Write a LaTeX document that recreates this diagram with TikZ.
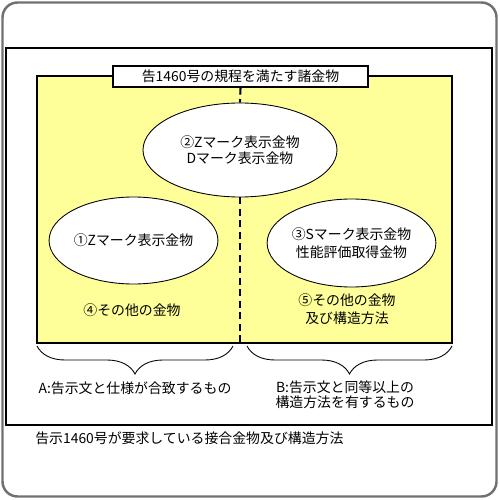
\documentclass[tikz,border=0pt]{standalone}
\usepackage{fontspec}
\setmainfont{Noto Sans CJK JP}
\usepackage{tikz}
\usetikzlibrary{shapes.geometric,decorations.pathreplacing,positioning,calc}
\definecolor{framegray}{HTML}{707070}
\definecolor{paleyellow}{HTML}{FFFF99}

\begin{document}
\begin{tikzpicture}[
  txt/.style={font=\fontsize{7.9pt}{8.8pt}\selectfont,align=center,inner sep=0pt},
  oval/.style={ellipse,draw,fill=white,line width=0.5pt,inner sep=0pt,txt},
  brc/.style={decorate,decoration={brace,mirror,amplitude=0.56cm},line width=0.5pt},
  sep/.style={line width=1.2pt,dash pattern=on 0.14cm off 0.09cm}]
\useasboundingbox (0,0) rectangle (10,-10);
\draw[framegray,line width=1.4pt,rounded corners=0.3cm] (0.05,-0.05) rectangle (9.93,-9.93);
\draw[line width=0.6pt] (0.12,-0.96) rectangle (9.84,-8.5);
\node[draw,fill=paleyellow,line width=0.6pt,minimum width=8.3cm,minimum height=5.34cm,inner sep=0pt] (zone) at (4.89,-4.19) {};
\node[draw,fill=white,txt,line width=0.6pt,minimum width=5.1cm,minimum height=0.42cm] (title) at (4.81,-1.53) {告1460号の規程を満たす諸金物};
\node[oval,minimum width=3.88cm,minimum height=1.88cm] (zd) at (4.8,-3.0) {②Zマーク表示金物\\Dマーク表示金物};
\node[oval,minimum width=2.78cm,minimum height=1.74cm] (z) at (2.67,-4.81) {①Zマーク表示金物};
\node[oval,minimum width=3.02cm,minimum height=1.76cm] (s) at (7.03,-4.86) {③Sマーク表示金物\\[1.5pt]性能評価取得金物};
\draw[sep] (title.south) -- (zd.north);
\draw[sep] (zd.south) -- (zd.south |- zone.south);
\node[txt] (other1) at (2.64,-6.2) {④その他の金物};
\node[txt] (other2) at (6.94,-6.18) {⑤その他の金物\\[1.5pt]及び構造方法};
\draw[brc] (0.74,-6.92) -- (4.66,-6.92);
\draw[brc] (4.94,-6.92) -- (9.04,-6.92);
\node[txt] (ta) at (2.7,-7.76) {A:告示文と仕様が合致するもの};
\node[txt] (tb) at (6.9,-7.89) {B:告示文と同等以上の\\構造方法を有するもの};
\node[txt,anchor=west] (cap) at (0.7,-8.76) {告示1460号が要求している接合金物及び構造方法};
\end{tikzpicture}
\end{document}
